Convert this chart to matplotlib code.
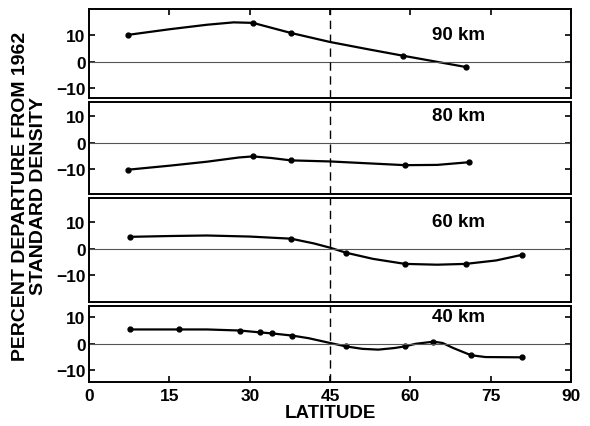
import numpy as np
import matplotlib.pyplot as plt

plt.rcParams['font.family'] = ['Liberation Sans', 'DejaVu Sans']
plt.rcParams['font.weight'] = 'bold'

# measured points (dots) for each altitude
lat_90 = [7.3, 30.6, 37.7, 58.7, 70.3]
dep_90 = [10.2, 14.7, 10.9, 2.3, -1.9]
lat_80 = [7.3, 30.6, 37.7, 59.0, 70.9]
dep_80 = [-10.2, -5.2, -6.7, -8.5, -7.4]
lat_60 = [7.7, 37.7, 48.0, 59.0, 70.3, 80.8]
dep_60 = [4.5, 3.8, -1.5, -5.7, -5.7, -2.3]
lat_40 = [7.7, 16.8, 28.1, 31.9, 34.2, 37.9, 48.0, 58.9, 64.3, 71.3, 80.8]
dep_40 = [5.3, 5.3, 4.9, 4.2, 3.8, 3.0, -1.1, -1.1, 0.7, -4.4, -5.2]

# hand-drawn curves
curve_lat_90 = [7.3, 15, 22, 27, 30.6, 37.7, 45, 52, 58.7, 70.3]
curve_dep_90 = [10.2, 12.3, 14.0, 14.9, 14.7, 10.9, 7.5, 4.8, 2.3, -1.9]
curve_lat_80 = [7.3, 15, 22, 28, 30.6, 34, 37.7, 45, 52, 59, 65, 70.9]
curve_dep_80 = [-10.2, -8.7, -7.2, -5.6, -5.2, -5.8, -6.7, -7.1, -7.8, -8.5, -8.4, -7.4]
curve_lat_60 = [7.7, 15, 22, 30, 37.7, 42, 45, 48, 53, 59, 65, 70.3, 76, 80.8]
curve_dep_60 = [4.5, 4.8, 5.0, 4.6, 3.8, 2.0, 0.4, -1.5, -3.8, -5.7, -6.0, -5.7, -4.4, -2.3]
curve_lat_40 = [7.7, 16.8, 22, 28.1, 31.9, 34.2, 37.9, 41, 45, 48, 51, 54, 57, 58.9,
                61, 64.3, 66, 68, 71.3, 74, 80.8]
curve_dep_40 = [5.3, 5.3, 5.3, 4.9, 4.2, 3.8, 3.0, 2.0, 0.2, -1.1, -2.0, -2.3, -1.7, -1.1,
                -0.1, 0.7, 0.2, -1.7, -4.4, -5.1, -5.2]

labels = ['90 km', '80 km', '60 km', '40 km']
ylims = [(-13.5, 20), (-19.3, 15.2), (-20, 19), (-14.5, 14)]
xticks = [0, 15, 30, 45, 60, 75, 90]
yticks = [-10, 0, 10]

panels = [(lat_90, dep_90, curve_lat_90, curve_dep_90),
          (lat_80, dep_80, curve_lat_80, curve_dep_80),
          (lat_60, dep_60, curve_lat_60, curve_dep_60),
          (lat_40, dep_40, curve_lat_40, curve_dep_40)]

fig, axes = plt.subplots(4, 1, figsize=(5.9, 4.27), dpi=100, sharex=True,
                         gridspec_kw={'height_ratios': [hi - lo for lo, hi in ylims],
                                      'hspace': 0.05})
fig.subplots_adjust(left=0.151, right=0.968, top=0.977, bottom=0.103)

for i, ax in enumerate(axes):
    lat, dep, clat, cdep = panels[i]
    ax.plot(clat, cdep, color='black', lw=1.6)
    ax.plot(lat, dep, 'o', color='black', ms=3.5)
    ax.axhline(0, color='#555555', lw=0.8)
    ax.axvline(45, color='black', lw=1.0, ls=(0, (6, 4)))
    ax.set_ylim(*ylims[i])
    ax.set_xlim(0, 90)
    ax.set_yticks(yticks)
    ax.set_xticks(xticks)
    ax.tick_params(direction='in', length=4, width=1.2, labelsize=12.5,
                   right=True, top=(i == 0), bottom=(i == 3), pad=2.5)
    ax.tick_params(axis='x', pad=4)
    ax.text(69, 10.3, labels[i], fontsize=13.5, ha='center', va='center')
    for s in ax.spines.values():
        s.set_linewidth(1.4)

axes[-1].set_xlabel('LATITUDE', fontsize=13.5, fontweight='bold', labelpad=1)
fig.text(0.05, 0.54, 'PERCENT DEPARTURE FROM 1962\nSTANDARD DENSITY',
         rotation=90, ha='center', va='center', fontsize=14, linespacing=1.1)

plt.savefig('out.png', dpi=100)
